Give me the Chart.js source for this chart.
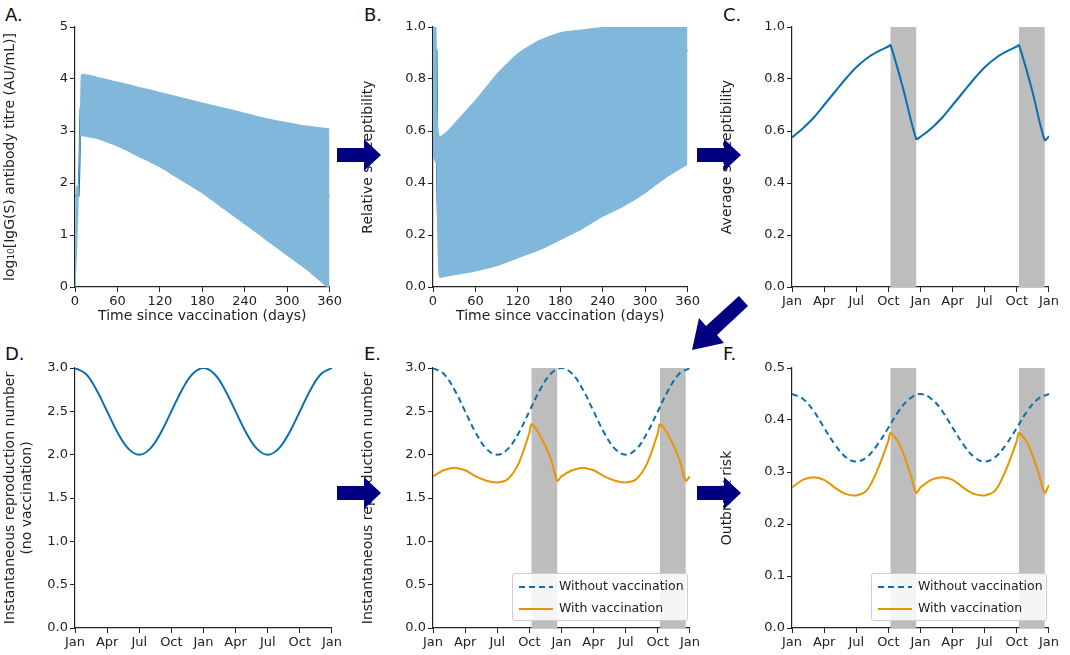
<!DOCTYPE html>
<html lang="en">
<head>
<meta charset="UTF-8">
<title>Vaccination panels</title>
<script src="https://cdn.jsdelivr.net/npm/chart.js"></script>
<style>
  body { margin:0; width:1070px; height:655px; background:#fff; position:relative; font-family:"DejaVu Sans",sans-serif; overflow:hidden; }
  .c { position:absolute; }
  .lab { position:absolute; font-size:18px; color:#111; }
  .leg { position:absolute; width:174px; height:46px; background:rgba(255,255,255,0.85); border:1px solid #ccc; border-radius:3px; font-size:12.5px; color:#222; }
  .leg div { height:20px; line-height:20px; margin-top:2px; }
  .leg svg { vertical-align:middle; margin:0 6px 0 6px; }
</style>
</head>
<body>
<div class="lab" style="left:5px;top:4px">A.</div>
<div class="lab" style="left:364px;top:4px">B.</div>
<div class="lab" style="left:723px;top:4px">C.</div>
<div class="lab" style="left:5px;top:343px">D.</div>
<div class="lab" style="left:364px;top:343px">E.</div>
<div class="lab" style="left:723px;top:343px">F.</div>

<canvas id="a" class="c" style="left:0;top:17px" width="344" height="310"></canvas>
<canvas id="b" class="c" style="left:358px;top:17px" width="344" height="310"></canvas>
<canvas id="cc" class="c" style="left:717px;top:17px" width="344" height="310"></canvas>
<canvas id="d" class="c" style="left:0;top:358px" width="344" height="310"></canvas>
<canvas id="e" class="c" style="left:358px;top:358px" width="344" height="310"></canvas>
<canvas id="f" class="c" style="left:717px;top:358px" width="344" height="310"></canvas>

<svg class="c" style="left:0;top:0" width="1070" height="655">
  <g fill="#000080">
    <polygon points="337,148 364,148 364,139 381,155 364,171 364,162 337,162"/>
    <polygon points="697,148 724,148 724,139 741,155 724,171 724,162 697,162"/>
    <polygon points="337,486 364,486 364,477 381,493 364,509 364,500 337,500"/>
    <polygon points="697,486 724,486 724,477 741,493 724,509 724,500 697,500"/>
    <polygon points="739,296 748,306 717,335 724,343 692,350 699,318 706,326"/>
  </g>
</svg>

<div class="leg" style="left:512px;top:573px">
  <div><svg width="34" height="4"><line x1="0" y1="2" x2="34" y2="2" stroke="#0a6fad" stroke-width="2" stroke-dasharray="6,4"/></svg>Without vaccination</div>
  <div><svg width="34" height="4"><line x1="0" y1="2" x2="34" y2="2" stroke="#e69500" stroke-width="2"/></svg>With vaccination</div>
</div>
<div class="leg" style="left:871px;top:573px">
  <div><svg width="34" height="4"><line x1="0" y1="2" x2="34" y2="2" stroke="#0a6fad" stroke-width="2" stroke-dasharray="6,4"/></svg>Without vaccination</div>
  <div><svg width="34" height="4"><line x1="0" y1="2" x2="34" y2="2" stroke="#e69500" stroke-width="2"/></svg>With vaccination</div>
</div>

<script>
// ---- data ----
const daysA = [0, 1, 5, 8, 10, 30, 60, 90, 120, 150, 180, 210, 240, 270, 300, 330, 360];
const titreMean  = [1.75, 1.75, 1.75, 3.45, 3.5, 3.45, 3.35, 3.22, 3.08, 2.93, 2.77, 2.6, 2.43, 2.25, 2.06, 1.9, 1.75];
const titreUpper = [0, 1.9, 2.0, 4.05, 4.1, 4.05, 3.95, 3.85, 3.75, 3.65, 3.55, 3.45, 3.35, 3.25, 3.17, 3.1, 3.05];
const titreLower = [0, 0, 1.5, 2.9, 2.9, 2.85, 2.7, 2.5, 2.3, 2.05, 1.8, 1.5, 1.2, 0.9, 0.6, 0.3, -0.05];

const daysB = [0, 3, 5, 6, 8, 10, 20, 30, 60, 90, 120, 150, 180, 210, 240, 270, 300, 330, 360];
const suscMean  = [1, 0.91, 0.91, 0.4, 0.21, 0.215, 0.225, 0.24, 0.3, 0.38, 0.47, 0.56, 0.64, 0.71, 0.77, 0.82, 0.86, 0.89, 0.91];
const suscUpper = [1, 1, 1, 0.7, 0.6, 0.58, 0.6, 0.63, 0.72, 0.82, 0.9, 0.95, 0.98, 0.99, 1, 1, 1, 1, 1];
const suscLower = [0.5, 0.48, 0.47, 0.2, 0.04, 0.035, 0.04, 0.045, 0.06, 0.08, 0.11, 0.14, 0.18, 0.22, 0.27, 0.31, 0.36, 0.42, 0.47];

const monthNames = ['Jan', 'Apr', 'Jul', 'Oct', 'Jan', 'Apr', 'Jul', 'Oct', 'Jan'];
const vaccBands = [[9.2, 11.6], [21.2, 23.6]];

const monthsC = [0, 1, 2, 3, 4, 5, 6, 7, 8, 9, 9.2, 10.4, 11.6, 12, 13, 14, 15, 16, 17, 18, 19, 20, 21, 21.2, 22.4, 23.6, 24];
const avgSusc = [0.575, 0.61, 0.65, 0.70, 0.75, 0.80, 0.845, 0.88, 0.905, 0.925, 0.93, 0.76, 0.57, 0.578, 0.61, 0.65, 0.70, 0.75, 0.80, 0.845, 0.88, 0.905, 0.925, 0.93, 0.76, 0.565, 0.58];

const months = [0, 1, 2, 3, 4, 5, 6, 7, 8, 9, 10, 11, 12, 13, 14, 15, 16, 17, 18, 19, 20, 21, 22, 23, 24];
const r0 = [3, 2.933, 2.75, 2.5, 2.25, 2.067, 2, 2.067, 2.25, 2.5, 2.75, 2.933, 3, 2.933, 2.75, 2.5, 2.25, 2.067, 2, 2.067, 2.25, 2.5, 2.75, 2.933, 3];
const riskNoVacc = [0.45, 0.441, 0.418, 0.385, 0.353, 0.329, 0.32, 0.329, 0.353, 0.385, 0.418, 0.441, 0.45, 0.441, 0.418, 0.385, 0.353, 0.329, 0.32, 0.329, 0.353, 0.385, 0.418, 0.441, 0.45];

const monthsV = [0, 1, 2, 3, 4, 5, 6, 7, 8, 9, 9.2, 10, 11, 11.6, 12, 13, 14, 15, 16, 17, 18, 19, 20, 21, 21.2, 22, 23, 23.6, 24];
const rVacc = [1.75, 1.82, 1.85, 1.82, 1.75, 1.7, 1.68, 1.72, 1.9, 2.25, 2.35, 2.22, 1.95, 1.7, 1.75, 1.82, 1.85, 1.82, 1.75, 1.7, 1.68, 1.72, 1.9, 2.25, 2.35, 2.22, 1.95, 1.7, 1.75];
const riskVacc = [0.27, 0.285, 0.29, 0.285, 0.27, 0.258, 0.255, 0.265, 0.305, 0.36, 0.375, 0.355, 0.3, 0.26, 0.27, 0.285, 0.29, 0.285, 0.27, 0.258, 0.255, 0.265, 0.305, 0.36, 0.375, 0.355, 0.3, 0.26, 0.275];

// ---- helpers ----
const BLUE = '#0a6fad', BAND = '#80b7da', ORANGE = '#e69500';
Chart.defaults.font.family = 'DejaVu Sans';
Chart.defaults.font.size = 13;
Chart.defaults.color = '#222';

const pts = (xs, ys) => xs.map((x, i) => ({x: x, y: ys[i]}));

const shade = {
  id: 'shade',
  beforeDatasetsDraw(chart, args, opts) {
    if (!opts.bands) return;
    const {ctx, chartArea, scales} = chart;
    ctx.save();
    ctx.fillStyle = '#bdbdbd';
    opts.bands.forEach(b => {
      const x1 = scales.x.getPixelForValue(b[0]), x2 = scales.x.getPixelForValue(b[1]);
      ctx.fillRect(x1, chartArea.top, x2 - x1, chartArea.bottom - chartArea.top);
    });
    ctx.restore();
  }
};

function axis(min, max, step, title, cb) {
  const ax = {
    type: 'linear', min: min, max: max,
    grid: {display: true, drawOnChartArea: false, tickLength: 5, color: '#222'},
    border: {display: true, color: '#222', width: 1.2},
    ticks: {stepSize: step, padding: 2, color: '#222'},
    title: {display: true, text: title, font: {size: 14}, padding: 2, color: '#222'}
  };
  if (cb) ax.ticks.callback = cb;
  return ax;
}

function make(id, datasets, xAx, yAx, bands) {
  xAx.afterFit = s => { s.height = 40; };
  yAx.afterFit = s => { s.width = 75; };
  new Chart(document.getElementById(id), {
    type: 'line',
    data: {datasets: datasets},
    options: {
      responsive: false, animation: false,
      layout: {padding: {top: 10, right: 10, left: 0, bottom: 0}},
      elements: {point: {radius: 0}, line: {borderWidth: 2}},
      plugins: {legend: {display: false}, tooltip: {enabled: false}, shade: {bands: bands}},
      scales: {x: xAx, y: yAx}
    },
    plugins: [shade]
  });
}

const monthTick = v => monthNames[v / 3];
const monthAxis = () => axis(0, 24, 3, '', monthTick);
function noTitle(ax) { ax.title.display = false; return ax; }
const fmt1 = v => v.toFixed(1);

// A
make('a', [
  {data: pts(daysA, titreUpper), borderWidth: 0, backgroundColor: BAND, fill: '+1', tension: 0.2},
  {data: pts(daysA, titreLower), borderWidth: 0, fill: false, tension: 0.2},
  {data: pts(daysA, titreMean), borderColor: BLUE, fill: false, tension: 0.2}
], axis(0, 360, 60, 'Time since vaccination (days)'),
   axis(0, 5, 1, 'log\u2081\u2080[IgG(S) antibody titre (AU/mL)]'));

// B
make('b', [
  {data: pts(daysB, suscUpper), borderWidth: 0, backgroundColor: BAND, fill: '+1', tension: 0.2},
  {data: pts(daysB, suscLower), borderWidth: 0, fill: false, tension: 0.2},
  {data: pts(daysB, suscMean), borderColor: BLUE, fill: false, tension: 0.2}
], axis(0, 360, 60, 'Time since vaccination (days)'),
   axis(0, 1, 0.2, 'Relative susceptibility', fmt1));

// C
make('cc', [
  {data: pts(monthsC, avgSusc), borderColor: BLUE, fill: false, tension: 0.3}
], noTitle(monthAxis()), axis(0, 1, 0.2, 'Average susceptibility', fmt1), vaccBands);

// D
make('d', [
  {data: pts(months, r0), borderColor: BLUE, fill: false, tension: 0.4}
], noTitle(monthAxis()),
   axis(0, 3, 0.5, ['Instantaneous reproduction number', '(no vaccination)'], fmt1));

// E
make('e', [
  {data: pts(months, r0), borderColor: BLUE, borderDash: [6, 4], fill: false, tension: 0.4},
  {data: pts(monthsV, rVacc), borderColor: ORANGE, fill: false, tension: 0.3}
], noTitle(monthAxis()), axis(0, 3, 0.5, 'Instantaneous reproduction number', fmt1), vaccBands);

// F
make('f', [
  {data: pts(months, riskNoVacc), borderColor: BLUE, borderDash: [6, 4], fill: false, tension: 0.4},
  {data: pts(monthsV, riskVacc), borderColor: ORANGE, fill: false, tension: 0.3}
], noTitle(monthAxis()), axis(0, 0.5, 0.1, 'Outbreak risk', fmt1), vaccBands);
</script>
</body>
</html>
